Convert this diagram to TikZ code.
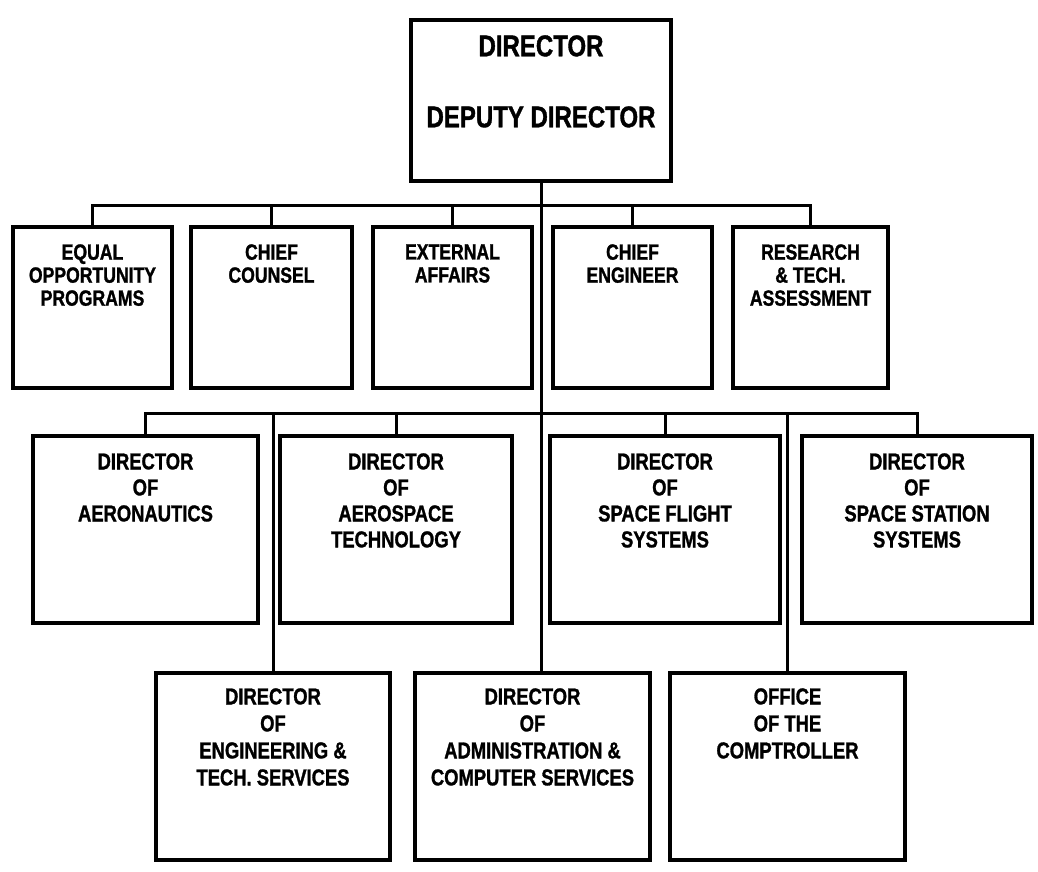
\documentclass[tikz,border=0pt]{standalone}
\usepackage{fontspec}
\newfontfamily\orgfont{Liberation Sans}[FakeStretch=0.8, BoldFeatures={FakeBold=1.2}]
\tikzset{
  obox/.style={draw=black, line width=3.8pt, inner sep=0pt, rectangle},
  otext/.style={inner sep=0pt, align=center, anchor=north, text=black},
  conn/.style={draw=black, line width=3pt},
  topfont/.style={font=\orgfont\bfseries\fontsize{30}{34}\selectfont},
  rowone/.style={font=\orgfont\bfseries\fontsize{22}{23}\selectfont},
  rowtwo/.style={font=\orgfont\bfseries\fontsize{23}{26}\selectfont},
  rowthree/.style={font=\orgfont\bfseries\fontsize{23}{27}\selectfont}
}
% #1 name, #2 left, #3 right, #4 top, #5 bottom, #6 text offset, #7 font style, #8 text
\newcommand\orgbox[8]{%
  \node[obox, minimum width={#3-#2}, minimum height={#5-#4}] (#1) at ({(#2+#3)/2},{(#4+#5)/2}) {};
  \node[otext, #7] (#1t) at ([yshift=-#6pt]#1.north) {#8};
}
\begin{document}
\begin{tikzpicture}[x=1pt,y=-1pt]
\useasboundingbox (0,0) rectangle (1038,871);
\fill[white] (0,0) rectangle (1038,871);

% top box
\node[obox, minimum width=260, minimum height=161] (top) at (541,100.5) {};
\node[otext, topfont] (topa) at ([yshift=-17pt]top.north) {DIRECTOR};
\node[otext, topfont] (topb) at ([yshift=-88pt]top.north) {DEPUTY DIRECTOR};

% row 1
\orgbox{b1}{13}{172}{227}{388}{19}{rowone}{EQUAL\\OPPORTUNITY\\PROGRAMS}
\orgbox{b2}{191}{352}{227}{388}{19}{rowone}{CHIEF\\COUNSEL}
\orgbox{b3}{373}{532}{227}{388}{19}{rowone}{EXTERNAL\\AFFAIRS}
\orgbox{b4}{553}{712}{227}{388}{19}{rowone}{CHIEF\\ENGINEER}
\orgbox{b5}{733}{888}{227}{388}{19}{rowone}{RESEARCH\\\& TECH.\\ASSESSMENT}

% row 2
\orgbox{a1}{33}{258}{436}{623}{19}{rowtwo}{DIRECTOR\\OF\\AERONAUTICS}
\orgbox{a2}{280}{512}{436}{623}{19}{rowtwo}{DIRECTOR\\OF\\AEROSPACE\\TECHNOLOGY}
\orgbox{a3}{550}{780}{436}{623}{19}{rowtwo}{DIRECTOR\\OF\\SPACE FLIGHT\\SYSTEMS}
\orgbox{a4}{802}{1032}{436}{623}{19}{rowtwo}{DIRECTOR\\OF\\SPACE STATION\\SYSTEMS}

% row 3
\orgbox{c1}{156}{390}{673}{860}{17}{rowthree}{DIRECTOR\\OF\\ENGINEERING \&\\TECH. SERVICES}
\orgbox{c2}{415}{650}{673}{860}{17}{rowthree}{DIRECTOR\\OF\\ADMINISTRATION \&\\COMPUTER SERVICES}
\orgbox{c3}{670}{905}{673}{860}{17}{rowthree}{OFFICE\\OF THE\\COMPTROLLER}

% buses
\coordinate (r1) at (0,205);
\coordinate (r2) at (0,413);

% main vertical
\draw[conn] (top.south) -- (top.south |- c2.north);

% row 1 connectors
\draw[conn] (b1.north) -- (b1.north |- r1) -- (b5.north |- r1) -- (b5.north);
\draw[conn] (b2.north) -- (b2.north |- r1);
\draw[conn] (b3.north) -- (b3.north |- r1);
\draw[conn] (b4.north) -- (b4.north |- r1);

% row 2 connectors
\draw[conn] (a1.north) -- (a1.north |- r2) -- (a4.north |- r2) -- (a4.north);
\draw[conn] (a2.north) -- (a2.north |- r2);
\draw[conn] (a3.north) -- (a3.north |- r2);

% row 3 connectors
\draw[conn] (c1.north) -- (c1.north |- r2);
\draw[conn] (c3.north) -- (c3.north |- r2);
\end{tikzpicture}
\end{document}
